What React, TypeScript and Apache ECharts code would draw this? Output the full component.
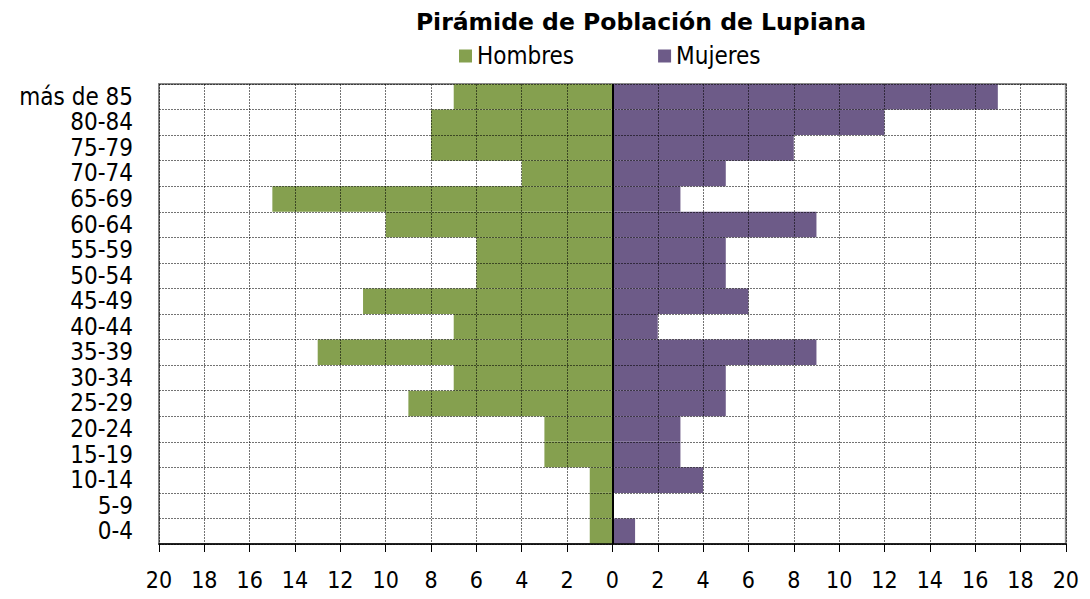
import React, { useEffect, useRef } from "react";
import * as echarts from "echarts";

const categories = ["0-4", "5-9", "10-14", "15-19", "20-24", "25-29", "30-34", "35-39", "40-44", "45-49", "50-54", "55-59", "60-64", "65-69", "70-74", "75-79", "80-84", "más de 85"];
const hombres = [1, 1, 1, 3, 3, 9, 7, 13, 7, 11, 6, 6, 10, 15, 4, 8, 8, 7];
const mujeres = [1, 0, 4, 3, 3, 5, 5, 9, 2, 6, 5, 5, 9, 3, 5, 8, 12, 17];

const FONT = "DejaVu Sans Condensed";

export default function App() {
  const ref = useRef<HTMLDivElement>(null);
  useEffect(() => {
    const chart = echarts.init(ref.current!, null, { renderer: "svg" });
    chart.setOption({
      animation: false,
      textStyle: { fontFamily: FONT },
      title: {
        text: "Pirámide de Población de Lupiana",
        left: 628,
        textAlign: "center",
        top: -3,
        textStyle: { fontFamily: "DejaVu Sans", fontSize: 23.5, fontWeight: "bold", color: "#000" },
      },
      legend: {
        top: 31,
        left: 446,
        itemGap: 84,
        itemWidth: 13,
        itemHeight: 13,
        icon: "rect",
        textStyle: { fontFamily: FONT, fontSize: 24, color: "#000", padding: [0, 0, 0, 0] },
        data: ["Hombres", "Mujeres"],
      },
      grid: {
        left: 151,
        right: 16,
        top: 76,
        bottom: 43,
        show: true,
        borderColor: "#888",
        borderWidth: 2,
        backgroundColor: "transparent",
      },
      xAxis: {
        type: "value",
        min: -20,
        max: 20,
        interval: 2,
        z: 5,
        axisLine: { show: true, onZero: false, lineStyle: { color: "#000", width: 1.5 } },
        axisTick: { show: true, length: 8, lineStyle: { color: "#000" } },
        axisLabel: {
          formatter: (v: number) => String(Math.abs(v)),
          fontFamily: FONT,
          fontSize: 23,
          color: "#000",
          margin: 24,
        },
        splitLine: { show: true, lineStyle: { color: "rgba(0,0,0,0.55)", type: [2, 1], width: 1 } },
      },
      yAxis: {
        type: "category",
        data: categories,
        z: 5,
        axisLine: { show: false },
        axisTick: { show: false },
        axisLabel: { interval: 0, fontFamily: FONT, fontSize: 24, color: "#000", margin: 26 },
        splitLine: { show: true, interval: 0, lineStyle: { color: "rgba(0,0,0,0.55)", type: [2, 1], width: 1 } },
      },
      series: [
        {
          name: "Hombres",
          type: "bar",
          stack: "p",
          barCategoryGap: 0,
          itemStyle: { color: "#85A04F" },
          data: hombres.map((v) => -v),
          markLine: {
            silent: true,
            symbol: "none",
            label: { show: false },
            lineStyle: { color: "#000", type: "solid", width: 2 },
            data: [{ xAxis: 0 }],
            z: 6,
          },
        },
        {
          name: "Mujeres",
          type: "bar",
          stack: "p",
          barCategoryGap: 0,
          itemStyle: { color: "#6D5B88" },
          data: mujeres,
        },
      ],
    });
    return () => chart.dispose();
  }, []);
  return <div ref={ref} style={{ width: 1074, height: 583 }} />;
}
